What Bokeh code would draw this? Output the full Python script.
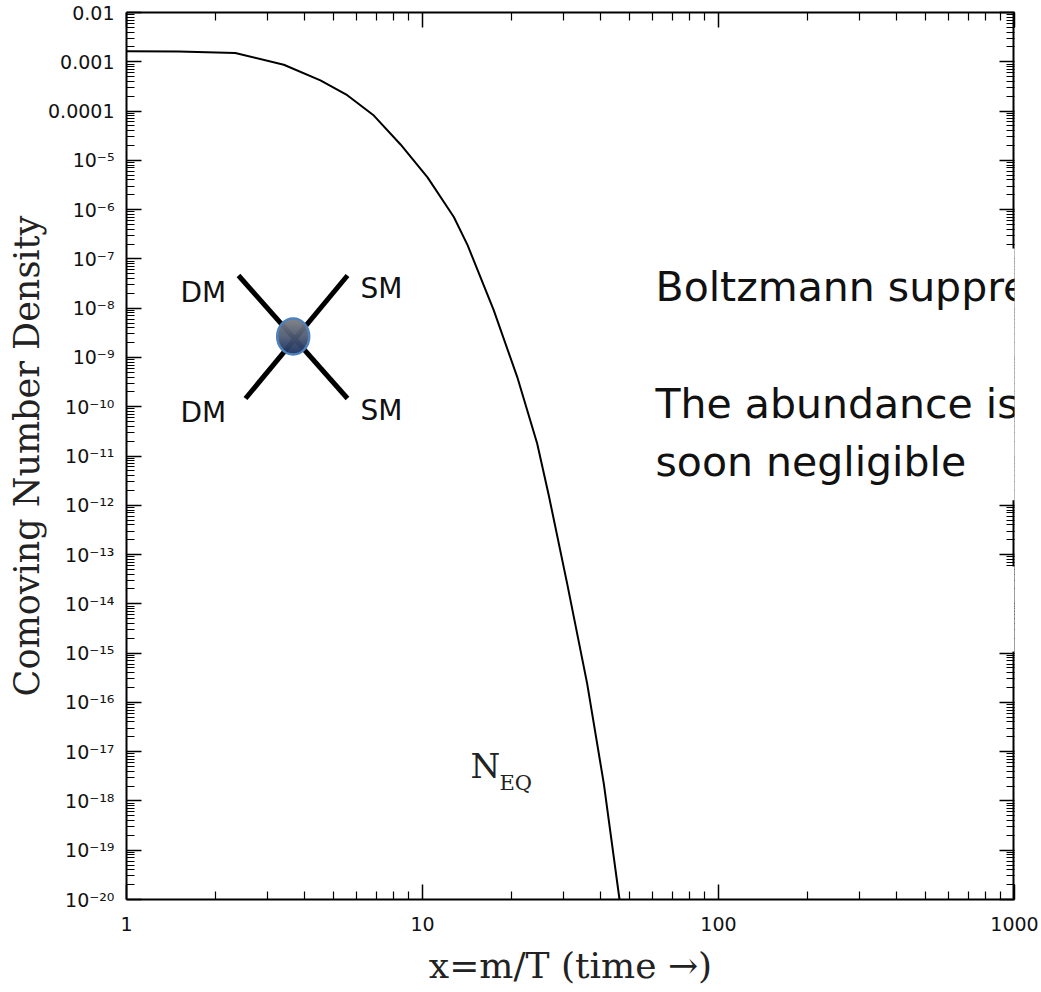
import numpy as np
from bokeh.plotting import figure
from bokeh.models import FixedTicker, LogAxis, Label, CustomJSTickFormatter, Range1d, BoxAnnotation
from bokeh.embed import file_html
from bokeh.resources import INLINE

# ---------------- data ----------------
x_eq = [1.0, 1.5, 2.33, 3.4, 4.52, 5.57, 6.85, 8.43, 10.4, 12.76, 14.2,
        17.4, 20.9, 24.4, 26.7, 30.8, 36.0, 41.0, 46.3]
y_eq = [1.64e-3, 1.62e-3, 1.51e-3, 8.7e-4, 4.2e-4, 2.1e-4, 8.1e-5, 2.1e-5,
        4.5e-6, 7.1e-7, 1.9e-7, 9.1e-9, 4.0e-10, 1.8e-11, 1.6e-12, 2.6e-14,
        2.4e-16, 2.2e-18, 1.0e-20]

x_ticks = [1, 10, 100, 1000]
x_tick_labels = ["1", "10", "100", "1000"]
y_ticks = [10.0 ** k for k in range(-20, -1)]
y_tick_labels = ["10\u207b\u00b2\u2070", "10\u207b\u00b9\u2079", "10\u207b\u00b9\u2078",
                 "10\u207b\u00b9\u2077", "10\u207b\u00b9\u2076", "10\u207b\u00b9\u2075",
                 "10\u207b\u00b9\u2074", "10\u207b\u00b9\u00b3", "10\u207b\u00b9\u00b2",
                 "10\u207b\u00b9\u00b9", "10\u207b\u00b9\u2070", "10\u207b\u2079",
                 "10\u207b\u2078", "10\u207b\u2077", "10\u207b\u2076", "10\u207b\u2075",
                 "0.0001", "0.001", "0.01"]
x_minor = [m * 10.0 ** k for k in range(0, 3) for m in range(2, 10)]
y_minor = [m * 10.0 ** k for k in range(-20, -2) for m in range(2, 10)]

# ---------------- frame geometry ----------------
W, H = 1041, 992
L, R, T, B = 126, 1014, 12, 899


def xd(px):
    return 10 ** (3.0 * (px - L) / (R - L))


def yd(py):
    return 10 ** (-2.0 - 18.0 * (py - T) / (B - T))


p = figure(width=W, height=H, x_axis_type="log", y_axis_type="log",
           x_range=Range1d(1, 1000), y_range=Range1d(1e-20, 1e-2),
           output_backend="svg", toolbar_location=None,
           min_border_left=L, min_border_right=W - R,
           min_border_top=T, min_border_bottom=H - B)
p.grid.visible = False
p.outline_line_color = None
p.background_fill_color = "white"
p.border_fill_color = "white"

TICK_FONT = "DejaVu Sans"


def style_axis(ax, show):
    ax.axis_line_color = "black"
    ax.axis_line_width = 2
    ax.major_tick_line_color = "black"
    ax.minor_tick_line_color = "black"
    ax.major_tick_line_width = 1.5
    ax.minor_tick_line_width = 1.2
    ax.major_tick_in = 15
    ax.major_tick_out = 0
    ax.minor_tick_in = 8
    ax.minor_tick_out = 0
    if show:
        ax.major_label_text_font = TICK_FONT
        ax.major_label_text_font_size = "19px"
        ax.major_label_text_color = "#111111"
        ax.axis_label_text_font = "DejaVu Serif"
        ax.axis_label_text_font_style = "normal"
        ax.axis_label_text_color = "#222222"
    else:
        ax.major_label_text_font_size = "0px"
        ax.major_label_standoff = 0
        ax.formatter = CustomJSTickFormatter(code="return ''")


xb = p.xaxis[0]
xb.ticker = FixedTicker(ticks=x_ticks, minor_ticks=x_minor)
xb.formatter = CustomJSTickFormatter(args=dict(labels=x_tick_labels),
                                     code="return labels[Math.round(Math.log10(tick))];")
style_axis(xb, True)
xb.major_label_standoff = 17
xb.axis_label = "x=m/T (time \u2192)"
xb.axis_label_text_font_size = "36px"
xb.axis_label_standoff = 11

yl = p.yaxis[0]
yl.ticker = FixedTicker(ticks=y_ticks, minor_ticks=y_minor)
yl.formatter = CustomJSTickFormatter(args=dict(labels=y_tick_labels),
                                     code="return labels[Math.round(Math.log10(tick)) + 20];")
style_axis(yl, True)
yl.major_label_standoff = 12
yl.axis_label = "Comoving Number Density"
yl.axis_label_text_font_size = "35px"
yl.axis_label_standoff = -2

top = LogAxis(ticker=FixedTicker(ticks=x_ticks, minor_ticks=x_minor))
style_axis(top, False)
p.add_layout(top, "above")
right = LogAxis(ticker=FixedTicker(ticks=y_ticks, minor_ticks=y_minor))
style_axis(right, False)
right.axis_line_color = None
p.add_layout(right, "right")

# right frame edge drawn as a glyph so that overlays can hide parts of it
p.line([1000, 1000], [1e-20, 1e-2], line_color="black", line_width=4)

# ---------------- curve ----------------
p.line(x_eq, y_eq, line_color="black", line_width=2)

# ---------------- N_EQ label ----------------
p.add_layout(Label(x=xd(470), y=yd(765), text="N", text_align="left",
                   text_baseline="alphabetic", text_font="DejaVu Serif",
                   text_font_size="34px", text_color="#222222"))
p.add_layout(Label(x=xd(499), y=yd(782), text="EQ", text_align="left",
                   text_baseline="alphabetic", text_font="DejaVu Serif",
                   text_font_size="21px", text_color="#222222"))

# ---------------- annihilation diagram ----------------
p.segment(x0=[xd(238), xd(347)], y0=[yd(275), yd(275)],
          x1=[xd(347), xd(245)], y1=[yd(398), yd(398)],
          line_color="black", line_width=5)
cx, cy, rw, rh = 292.7, 336.0, 16.0, 18.0
rows = np.arange(-rh + 0.5, rh, 1.0)
half = rw * np.sqrt(np.clip(1 - (rows / rh) ** 2, 0, 1))
top_c = np.array([130, 130, 132])
bot_c = np.array([28, 52, 100])
cols = []
for r in rows:
    f = (r + rh) / (2 * rh)
    c = (top_c * (1 - f) + bot_c * f).astype(int)
    cols.append("#%02x%02x%02x" % tuple(c))
p.segment(x0=[xd(cx - h) for h in half], x1=[xd(cx + h) for h in half],
          y0=[yd(cy + r) for r in rows], y1=[yd(cy + r) for r in rows],
          line_color=cols, line_width=1.6)
p.ellipse(x=[xd(cx)], y=[yd(cy)], width=2 * rw, height=2 * rh,
          width_units="screen", height_units="screen",
          fill_color=None, line_color="#4f81bd", line_width=2.5)

for txt, px, py in [("DM", 180, 292), ("SM", 360, 288), ("DM", 180, 412), ("SM", 360, 410)]:
    p.add_layout(Label(x=xd(px), y=yd(py), text=txt, text_align="left",
                       text_baseline="alphabetic", text_font="DejaVu Sans",
                       text_font_size="28px", text_color="#111111"))

# ---------------- overlays that hide part of the right frame ----------------
p.add_layout(BoxAnnotation(left=xd(992), right=1000, bottom=yd(651), top=yd(566),
                           fill_color="white", fill_alpha=1.0, line_color=None))

p.add_layout(Label(x=xd(641), y=yd(248),
                   text="Boltzmann suppression\n\nThe abundance is rapidly reduced\nsoon negligible",
                   text_align="left", text_baseline="top", text_line_height=1.22,
                   text_font="DejaVu Sans", text_font_size="41px", text_color="#111111",
                   background_fill_color="white", padding=14))

open("out.html", "w").write(file_html(p, INLINE))
